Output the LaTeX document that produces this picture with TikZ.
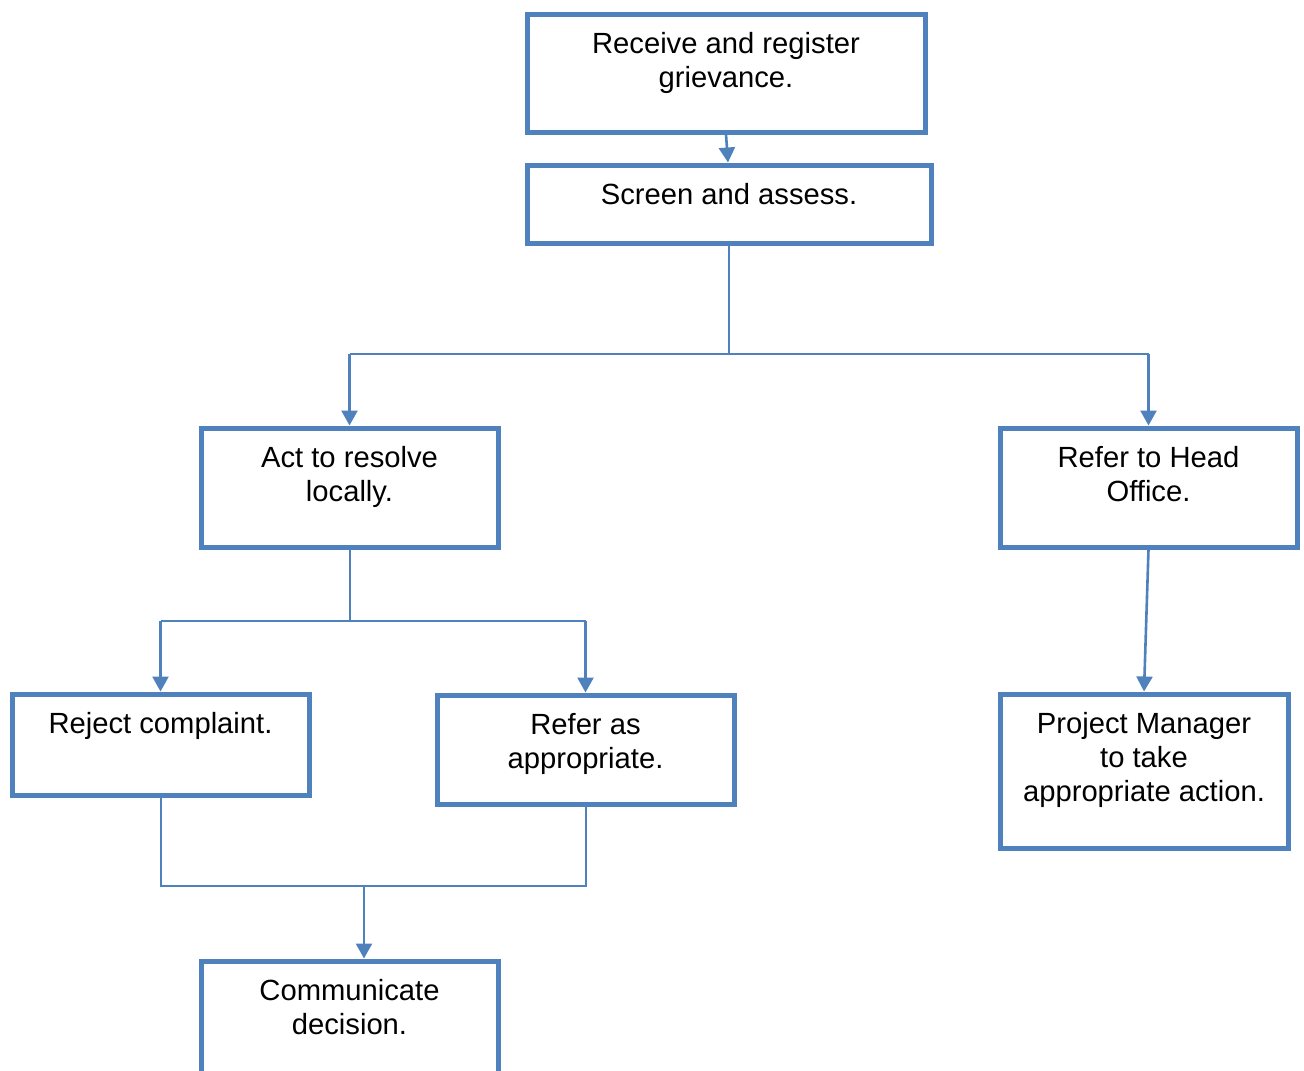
\documentclass[tikz,border=0pt]{standalone}
\usepackage{fontspec}
\setmainfont{Liberation Sans}
\usetikzlibrary{arrows.meta}
\definecolor{boxblue}{HTML}{4F81BD}
\begin{document}
\begin{tikzpicture}[x=1pt,y=-1pt,
  procbox/.style={draw=boxblue, line width=5pt, rectangle, inner sep=0pt, fill=white},
  txt/.style={anchor=north, inner sep=0pt, align=center, font=\fontsize{29.2}{34}\selectfont, text=black},
  conn/.style={draw=boxblue, line width=2pt},
  arr/.style={draw=boxblue, line width=2.6pt, -{Triangle[width=16pt,length=15pt]}}]
\useasboundingbox (0,0) rectangle (1304,1071);
% boxes
\node[procbox, minimum width=398pt, minimum height=118pt] (receive) at (726,73) {};
\node[procbox, minimum width=404pt, minimum height=78pt] (screen) at (729,204) {};
\node[procbox, minimum width=297pt, minimum height=119pt] (act) at (349.5,487.5) {};
\node[procbox, minimum width=297pt, minimum height=119pt] (head) at (1148.5,487.5) {};
\node[procbox, minimum width=297pt, minimum height=101pt] (reject) at (160.5,744.5) {};
\node[procbox, minimum width=297pt, minimum height=109pt] (refer) at (585.5,749.5) {};
\node[procbox, minimum width=288pt, minimum height=154pt] (pm) at (1144,771) {};
\node[procbox, minimum width=297pt, minimum height=170pt] (comm) at (349.5,1046) {};
% texts
\node[txt] (receivet) at ([yshift=-20.4pt]receive.north) {Receive and register\\grievance.};
\node[txt] (screent) at ([yshift=-20.4pt]screen.north) {Screen and assess.};
\node[txt] (actt) at ([yshift=-20.4pt]act.north) {Act to resolve\\locally.};
\node[txt] (headt) at ([yshift=-20.4pt]head.north) {Refer to Head\\Office.};
\node[txt] (rejectt) at ([yshift=-20.4pt]reject.north) {Reject complaint.};
\node[txt] (refert) at ([yshift=-20.4pt]refer.north) {Refer as\\appropriate.};
\node[txt] (pmt) at ([yshift=-20.4pt]pm.north) {Project Manager\\to take\\appropriate action.};
\node[txt] (commt) at ([yshift=-20.4pt]comm.north) {Communicate\\decision.};
% junction coordinates
\coordinate (split1) at (729,354);
\coordinate (split2) at (349.5,621);
\coordinate (join) at (364,886);
% connectors
\draw[arr] (receive.south) -- ([xshift=-1pt]screen.north);
\draw[conn] (screen.south) -- (split1);
\draw[conn] (act.north |- split1) -- (head.north |- split1);
\draw[arr] (act.north |- split1) -- (act.north);
\draw[arr] (head.north |- split1) -- (head.north);
\draw[conn] (act.south) -- (split2);
\draw[conn] (reject.north |- split2) -- (refer.north |- split2);
\draw[arr] (reject.north |- split2) -- (reject.north);
\draw[arr] (refer.north |- split2) -- (refer.north);
\draw[conn] (reject.south) -- (reject.south |- join) -- (refer.south |- join) -- (refer.south);
\draw[arr] (join) -- (join |- comm.north);
\draw[arr] (head.south) -- (pm.north);
\end{tikzpicture}
\end{document}
